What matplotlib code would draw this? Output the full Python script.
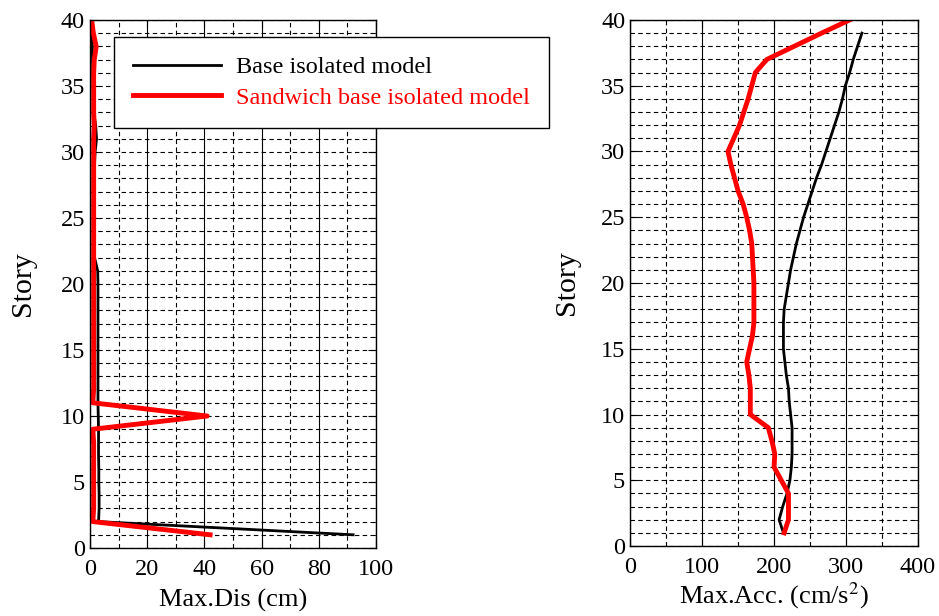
import matplotlib.pyplot as plt
from matplotlib.ticker import MultipleLocator
import numpy as np

plt.rcParams['font.family'] = ['Liberation Serif', 'DejaVu Serif']
plt.rcParams['mathtext.fontset'] = 'stix'

# story numbers
stories = np.arange(1, 41)
stories_acc_base = np.arange(1, 40)

# max displacement (cm)
dis_base = [92, 3, 3.2, 3.2, 3.1, 3.1, 3, 3, 3, 2.9,
            2.8, 2.8, 2.8, 2.8, 2.8, 2.8, 2.8, 2.8, 2.8, 2.8,
            2.7, 1.6, 1.6, 1.6, 1.6, 1.6, 1.6, 1.6, 1.6, 1.8,
            2.3, 2.0, 1.3, 1.2, 1.1, 1.0, 0.9, 0.8, 0.7, 0.6]
dis_sandwich = [42, 1, 1.3, 1.3, 1.3, 1.3, 1.3, 1.3, 1, 41,
                1, 1.3, 1.3, 1.3, 1.3, 1.3, 1.3, 1.3, 1.3, 1.3,
                1.3, 1.3, 1.3, 1.3, 1.3, 1.3, 1.3, 1.3, 1.3, 1.3,
                1.3, 1.5, 1.3, 1.3, 1.3, 1.3, 1.5, 2.2, 1.2, 0.6]

# max acceleration (cm/s^2)
acc_base = [213, 207, 212, 218, 222, 224, 225, 225, 225, 223,
            221, 220, 217, 215, 213, 213, 213, 214, 217, 220,
            223, 227, 231, 236, 241, 247, 253, 259, 266, 272,
            278, 284, 290, 295, 299, 305, 310, 316, 322]
acc_sandwich = [214, 220, 220, 220, 210, 200, 201, 197, 192, 167,
                167, 167, 165, 162, 166, 170, 172, 172, 172, 172,
                171, 170, 169, 166, 162, 157, 150, 145, 140, 136,
                144, 152, 158, 164, 169, 174, 190, 228, 266, 305]

fs = 17.5
fs_xlab = 19
fs_ylab = 21.5

fig = plt.figure(figsize=(9.39, 6.16), dpi=100)
ax1 = fig.add_axes([0.0958, 0.1104, 0.3046, 0.857])
ax2 = fig.add_axes([0.671, 0.1136, 0.3067, 0.854])


def style_axes(ax, xmax, xmajor, xlabel, xpad, ypad):
    ax.set_xlim(0, xmax)
    ax.set_ylim(0, 40)
    ax.xaxis.set_major_locator(MultipleLocator(xmajor))
    ax.xaxis.set_minor_locator(MultipleLocator(xmajor / 2))
    ax.yaxis.set_major_locator(MultipleLocator(5))
    ax.yaxis.set_minor_locator(MultipleLocator(1))
    ax.grid(which='major', axis='x', color='black', linestyle='-', linewidth=0.8)
    ax.grid(which='minor', axis='x', color='black', linestyle=(0, (4, 3)), linewidth=0.8)
    ax.grid(which='both', axis='y', color='black', linestyle=(0, (4, 3)), linewidth=0.8)
    ax.tick_params(which='both', direction='in', top=True, right=True, labelsize=fs)
    ax.tick_params(which='major', length=6)
    ax.tick_params(which='minor', length=3)
    ax.tick_params(axis='x', which='major', pad=8)
    ax.tick_params(axis='x', which='minor', length=0)
    for s in ax.spines.values():
        s.set_linewidth(1.0)
    ax.set_xlabel(xlabel, fontsize=fs_xlab, labelpad=xpad)
    ax.set_ylabel('Story', fontsize=fs_ylab, labelpad=ypad)
    ax.set_axisbelow(True)


ax1.plot(dis_base, stories, color='black', linewidth=2.0, label='Base isolated model')
ax1.plot(dis_sandwich, stories, color='red', linewidth=3.5, label='Sandwich base isolated model')
style_axes(ax1, 100, 20, 'Max.Dis (cm)', 6, 18)

ax2.plot(acc_base, stories_acc_base, color='black', linewidth=2.0)
ax2.plot(acc_sandwich, stories, color='red', linewidth=3.5)
style_axes(ax2, 400, 100, 'Max.Acc. (cm/s$^2$)', 2, 15)

leg = ax1.legend(loc='upper left', bbox_to_anchor=(0.1214, 0.94), bbox_transform=fig.transFigure,
                 borderaxespad=0, fontsize=fs, frameon=True, fancybox=False,
                 edgecolor='black', framealpha=1, handlelength=3.6, handletextpad=0.6,
                 borderpad=0.8, labelspacing=0.35, labelcolor='linecolor')
leg.get_frame().set_linewidth(1.0)
leg.set_zorder(10)

plt.savefig('out.png', dpi=100)
